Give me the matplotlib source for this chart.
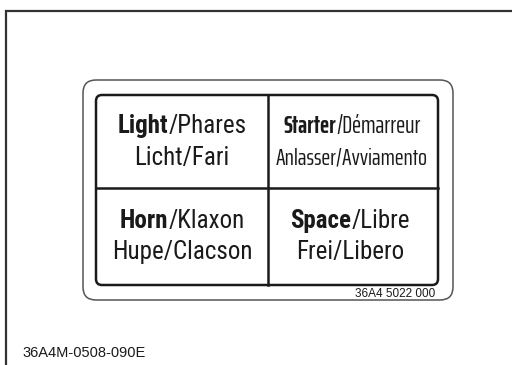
import matplotlib
matplotlib.use('Agg')
import matplotlib.pyplot as plt
from matplotlib.patches import FancyBboxPatch

# label contents (one entry per cell: upper-left, upper-right, lower-left, lower-right)
bold_words = ['Light', 'Starter', 'Horn', 'Space']
first_rest = ['/Phares', '/Démarreur', '/Klaxon', '/Libre']
second_lines = ['Licht/Fari', 'Anlasser/Avviamento', 'Hupe/Clacson', 'Frei/Libero']
part_no = '36A4 5022 000'
fig_code = '36A4M-0508-090E'

FONT = ['Roboto Condensed', 'DejaVu Sans']
NARROW = ['Saira ExtraCondensed', 'Roboto Condensed', 'DejaVu Sans']
INK = '#1a1a1a'

fig = plt.figure(figsize=(5.12, 3.65), dpi=100)
ax = fig.add_axes([0, 0, 1, 1])
ax.set_xlim(0, 512)
ax.set_ylim(365, 0)
ax.axis('off')

# page frame (only top and left edges visible)
ax.plot([5.5, 5.5, 512], [365, 10.5, 10.5], color='#333333', lw=1.6, solid_joinstyle='miter')

# outer rounded label outline
ax.add_patch(FancyBboxPatch((83, 80), 370, 220, boxstyle='round,pad=0,rounding_size=13',
                            fc='white', ec='#555555', lw=1.1))
# inner rounded box with grid
ax.add_patch(FancyBboxPatch((96, 95), 342, 190, boxstyle='round,pad=0,rounding_size=6',
                            fc='none', ec=INK, lw=1.8))
ax.plot([268, 268], [95, 285], color=INK, lw=1.8)
ax.plot([96, 438], [188, 188], color=INK, lw=1.8)

cells = [(182, 126, 158), (352, 126, 158), (182, 221, 252), (350, 221, 252)]
sizes = [(18, 18), (17.5, 17), (18, 18), (18, 18)]
fonts = [FONT, NARROW, FONT, FONT]

renderer = fig.canvas.get_renderer()
for i, (cx, y1, y2) in enumerate(cells):
    s1, s2 = sizes[i]
    tb = ax.text(0, y1, bold_words[i], fontsize=s1, fontweight='bold', family=fonts[i],
                 color=INK, ha='left', va='center')
    tr = ax.text(0, y1, first_rest[i], fontsize=s1, family=fonts[i],
                 color=INK, ha='left', va='center')
    wb = tb.get_window_extent(renderer).width
    wr = tr.get_window_extent(renderer).width
    x0 = cx - (wb + wr) / 2
    tb.set_x(x0)
    tr.set_x(x0 + wb)
    ax.text(cx, y2, second_lines[i], fontsize=s2, family=fonts[i], color=INK,
            ha='center', va='center')

ax.text(435, 294, part_no, fontsize=8.5, family=['Liberation Sans', 'DejaVu Sans'],
        color=INK, ha='right', va='center')
ax.text(22, 353, fig_code, fontsize=10.5, family=['Liberation Sans', 'DejaVu Sans'],
        color=INK, ha='left', va='center')

fig.savefig('out.png', dpi=100)
plt.close(fig)
